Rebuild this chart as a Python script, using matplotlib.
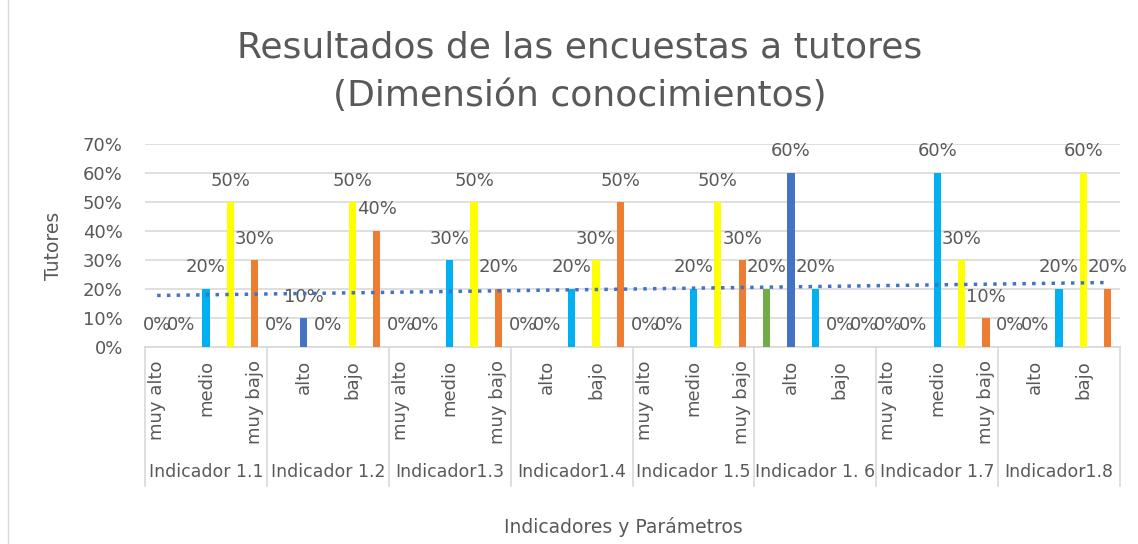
import numpy as np
import matplotlib.pyplot as plt
from matplotlib.transforms import blended_transform_factory
from matplotlib.lines import Line2D
from matplotlib.patches import Rectangle

plt.rcParams['font.family'] = ['DejaVu Sans']

# Daten
indicadores = ['Indicador 1.1', 'Indicador 1.2', 'Indicador1.3', 'Indicador1.4',
               'Indicador 1.5', 'Indicador 1. 6', 'Indicador 1.7', 'Indicador1.8']
niveles = ['muy alto', 'alto', 'medio', 'bajo', 'muy bajo']
colores = ['#70AD47', '#4472C4', '#00B0F0', '#FFFF00', '#ED7D31']

ind_11 = [0, 0, 0.20, 0.50, 0.30]
ind_12 = [0, 0.10, 0, 0.50, 0.40]
ind_13 = [0, 0, 0.30, 0.50, 0.20]
ind_14 = [0, 0, 0.20, 0.30, 0.50]
ind_15 = [0, 0, 0.20, 0.50, 0.30]
ind_16 = [0.20, 0.60, 0.20, 0, 0]
ind_17 = [0, 0, 0.60, 0.30, 0.10]
ind_18 = [0, 0, 0.20, 0.60, 0.20]
werte = [ind_11, ind_12, ind_13, ind_14, ind_15, ind_16, ind_17, ind_18]

gris = '#595959'
fig = plt.figure(figsize=(11.38, 5.44), dpi=100)
ax = fig.add_axes([145/1138, 1 - 347/544, 975/1138, 203/544])

alle = []
pos = 0
for g, vals in enumerate(werte):
    for k, v in enumerate(vals):
        if v > 0:
            ax.bar(pos, v, width=0.3, color=colores[k], zorder=3)
        ax.annotate(f'{v:.0%}', (pos, v), xytext=(0, 9), textcoords='offset points',
                    ha='center', va='bottom', fontsize=13, color=gris, zorder=4)
        alle.append(v)
        pos += 1

# lineare Trendlinie
xs = np.arange(len(alle))
m, b = np.polyfit(xs, alle, 1)
ax.plot(xs, m * xs + b, color='#4472C4', linestyle=(0, (1, 1.8)), linewidth=2.5, zorder=5)

ax.set_xlim(-0.5, len(alle) - 0.5)
ax.set_ylim(0, 0.7)
ax.set_yticks(np.arange(0, 0.71, 0.1))
ax.set_yticklabels([f'{t:.0%}' for t in np.arange(0, 0.71, 0.1)], fontsize=13, color=gris)
ax.grid(axis='y', color='#D9D9D9', linewidth=1.2, zorder=0)
ax.tick_params(axis='y', length=0, pad=16)
ax.set_xticks([])
for s in ['top', 'right', 'left']:
    ax.spines[s].set_visible(False)
ax.spines['bottom'].set_color('#D9D9D9')
ax.spines['bottom'].set_linewidth(1.2)
ax.set_ylabel('Tutores', fontsize=13.5, color=gris, labelpad=14)

trans = blended_transform_factory(ax.transData, fig.transFigure)
# Kategorien (nur jede zweite beschriftet)
for i in range(0, len(alle), 2):
    ax.text(i, 1 - 360/544, niveles[i % 5], transform=trans, rotation=90,
            ha='center', va='top', fontsize=13, color=gris)
for g, name in enumerate(indicadores):
    ax.text(g * 5 + 2, 1 - 472/544, name, transform=trans, ha='center', va='center',
            fontsize=12.5, color=gris)
for g in range(len(indicadores) + 1):
    fig.add_artist(Line2D([g * 5 - 0.5, g * 5 - 0.5], [1 - 347/544, 1 - 486/544],
                          transform=trans, color='#D9D9D9', linewidth=1.2))

fig.text(623/1138, 1 - 527/544, 'Indicadores y Parámetros', ha='center', va='center',
         fontsize=13.5, color=gris)
fig.text(580/1138, 1 - 47/544, 'Resultados de las encuestas a tutores', ha='center',
         va='center', fontsize=26, color=gris)
fig.text(580/1138, 1 - 96/544, '(Dimensión conocimientos)', ha='center',
         va='center', fontsize=26, color=gris)

fig.add_artist(Rectangle((8/1138, -0.01), 1.1, 1.1, transform=fig.transFigure,
                         fill=False, edgecolor='#D9D9D9', linewidth=1))

fig.savefig('out.png', dpi=100)
